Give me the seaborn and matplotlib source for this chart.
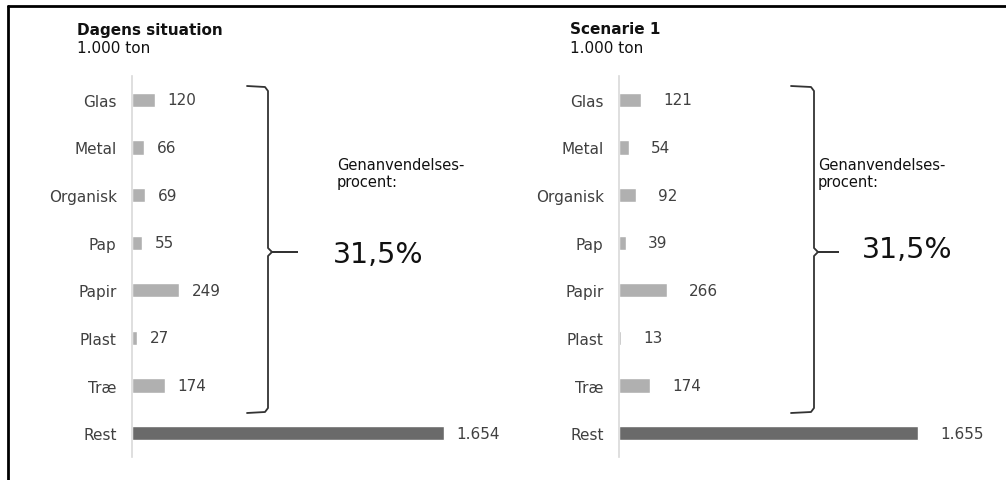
import matplotlib
matplotlib.use("Agg")
import matplotlib.pyplot as plt
import seaborn as sns
import pandas as pd
from matplotlib.lines import Line2D

categories = ["Glas", "Metal", "Organisk", "Pap", "Papir", "Plast", "Træ", "Rest"]
dagens = [120, 66, 69, 55, 249, 27, 174, 1654]
scenarie = [121, 54, 92, 39, 266, 13, 174, 1655]
titles = ["Dagens situation", "Scenarie 1"]
subtitle = "1.000 ton"
rate_label = "Genanvendelses-\nprocent:"
rates = ["31,5%", "31,5%"]

sns.set_style("white")
plt.rcParams["font.family"] = ["DejaVu Sans"]

W, H = 1006, 481
fig = plt.figure(figsize=(W / 100, H / 100), dpi=100)


def fx(px):
    return px / W


def fy(py):
    return 1 - py / H


light = "#b0b0b0"
dark = "#6a6a6a"
palette = [light] * 7 + [dark]

panels = [
    dict(vals=dagens, left=132, xmax=2000, pad=9, title_x=77,
         brace_x=268, hook_x=247, tip_x=297, txt_x=337, big_x=333, big_y=255),
    dict(vals=scenarie, left=619, xmax=2100, pad=16, title_x=570,
         brace_x=814, hook_x=791, tip_x=838, txt_x=818, big_x=862, big_y=250),
]
scale = [0.1886, 0.1807]

for i, p in enumerate(panels):
    width_px = p["xmax"] * scale[i]
    ax = fig.add_axes([fx(p["left"]), fy(458), width_px / W, 381 / H])
    df = pd.DataFrame({"cat": categories, "val": p["vals"]})
    sns.barplot(data=df, y="cat", x="val", hue="cat", palette=palette,
                dodge=False, width=0.3, legend=False, ax=ax, saturation=1)
    ax.set_xlim(0, p["xmax"])
    ax.set_ylim(7.5, -0.5)
    ax.set_xlabel("")
    ax.set_ylabel("")
    ax.set_xticks([])
    for s in ["top", "right", "bottom"]:
        ax.spines[s].set_visible(False)
    ax.spines["left"].set_color("#d9d9d9")
    ax.spines["left"].set_linewidth(1.2)
    ax.tick_params(axis="y", length=0, pad=11, labelsize=11, labelcolor="#404040")
    ax.patch.set_alpha(0)
    for c in ax.containers:
        ax.bar_label(c, labels=[f"{int(v.get_width()):,}".replace(",", ".") for v in c],
                     padding=p["pad"], fontsize=11, color="#404040")

    # titles
    fig.text(fx(p["title_x"]), fy(30), titles[i], fontsize=11, fontweight="bold",
             ha="left", va="center", color="#111111")
    fig.text(fx(p["title_x"]), fy(49), subtitle, fontsize=11,
             ha="left", va="center", color="#111111")

    # brace
    bx, hx, tx = p["brace_x"], p["hook_x"], p["tip_x"]
    ty = 253
    xs = [hx, bx - 3, bx, bx, bx + 4, tx, bx + 4, bx, bx, bx - 3, hx]
    ys = [87, 88, 92, ty - 4, ty, ty, ty, ty + 4, 409, 413, 414]
    fig.add_artist(Line2D([fx(x) for x in xs], [fy(y) for y in ys],
                          color="#333333", lw=1.3, transform=fig.transFigure))

    fig.text(fx(p["txt_x"]), fy(174), rate_label, fontsize=10.5, ha="left",
             va="center", color="#111111", linespacing=1.1)
    fig.text(fx(p["big_x"]), fy(p["big_y"]), rates[i], fontsize=20.5, ha="left",
             va="center", color="#111111")

# frame lines (left and top edges of the outer box)
fig.add_artist(Line2D([fx(8), fx(8)], [fy(7), 0], color="black", lw=2,
                      transform=fig.transFigure))
fig.add_artist(Line2D([fx(8), 1], [fy(7), fy(7)], color="black", lw=2,
                      transform=fig.transFigure))

fig.savefig("out.png", dpi=100)
